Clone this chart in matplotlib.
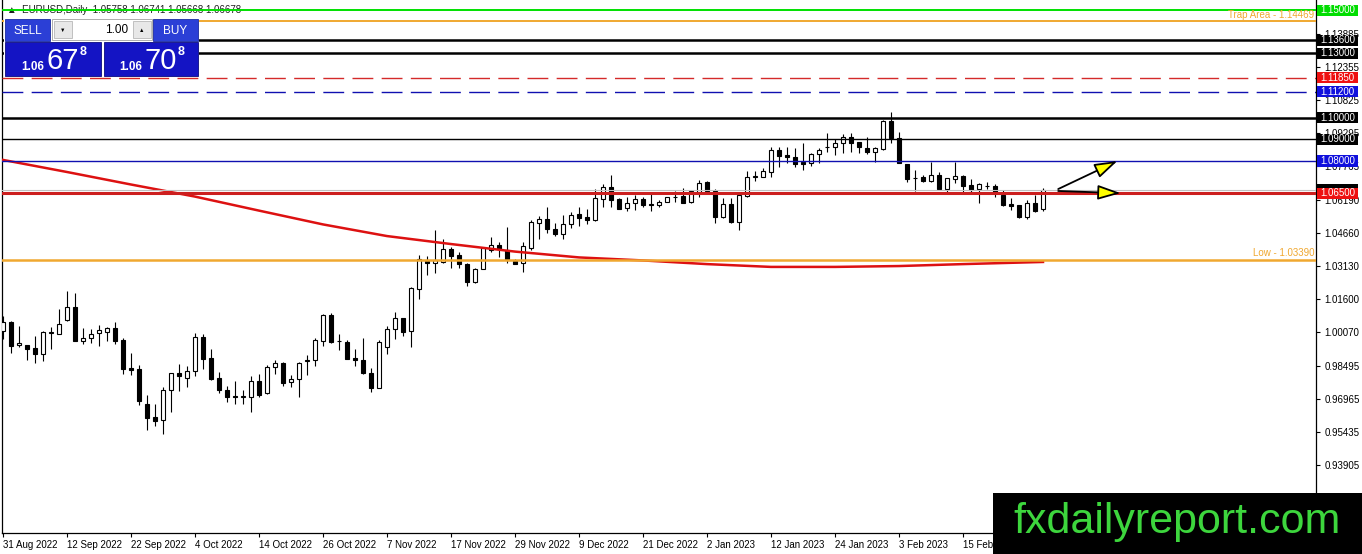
import matplotlib
matplotlib.use("Agg")
import matplotlib.pyplot as plt
from matplotlib.patches import Rectangle, FancyArrowPatch
from matplotlib.transforms import blended_transform_factory
import numpy as np

plt.rcParams['font.family'] = ['Liberation Sans', 'DejaVu Sans']

W, H = 1362, 554

# EURUSD daily bars, 31 Aug 2022 -> 1 Mar 2023
opens = [1.0013, 1.0052, 0.9946, 0.9946, 0.9932, 0.9904, 1.0003, 0.9997, 1.0064, 1.0121,
         0.9967, 0.9978, 1.0001, 1.0009, 1.0026, 0.9970, 0.9839, 0.9836, 0.9673, 0.9615,
         0.9598, 0.9737, 0.9817, 0.9795, 0.9825, 0.9984, 0.9887, 0.9794, 0.9738, 0.9710,
         0.9704, 0.9704, 0.9780, 0.9724, 0.9845, 0.9865, 0.9774, 0.9788, 0.9875, 0.9876,
         0.9967, 1.0086, 0.9964, 0.9961, 0.9888, 0.9876, 0.9817, 0.9749, 0.9939, 1.0020,
         1.0070, 1.0011, 1.0208, 1.0338, 1.0326, 1.0330, 1.0392, 1.0364, 1.0321, 1.0238,
         1.0301, 1.0389, 1.0411, 1.0389, 1.0338, 1.0326, 1.0398, 1.0514, 1.0529, 1.0486,
         1.0463, 1.0507, 1.0553, 1.0539, 1.0527, 1.0625, 1.0678, 1.0623, 1.0584, 1.0604,
         1.0623, 1.0602, 1.0595, 1.0610, 1.0633, 1.0638, 1.0609, 1.0658, 1.0703, 1.0662,
         1.0542, 1.0599, 1.0519, 1.0638, 1.0727, 1.0727, 1.0750, 1.0851, 1.0828, 1.0817,
         1.0794, 1.0789, 1.0832, 1.0866, 1.0866, 1.0882, 1.0910, 1.0890, 1.0859, 1.0843,
         1.0856, 1.0985, 1.0906, 1.0786, 1.0721, 1.0725, 1.0707, 1.0735, 1.0669, 1.0718,
         1.0732, 1.0687, 1.0669, 1.0685, 1.0684, 1.0642, 1.0601, 1.0594, 1.0539, 1.0604,
         1.05758]
highs = [1.0081, 1.0058, 1.0035, 0.9947, 0.9989, 1.0012, 1.0032, 1.0114, 1.0195, 1.0186,
         1.0025, 1.0021, 1.0040, 1.0031, 1.0054, 0.9978, 0.9910, 0.9854, 0.9715, 0.9673,
         0.9751, 0.9818, 0.9859, 0.9850, 1.0004, 0.9998, 0.9928, 0.9822, 0.9757, 0.9782,
         0.9738, 0.9805, 0.9813, 0.9853, 0.9877, 0.9870, 0.9808, 0.9870, 0.9901, 0.9979,
         1.0089, 1.0095, 0.9998, 0.9968, 0.9927, 0.9981, 0.9842, 0.9970, 1.0035, 1.0100,
         1.0073, 1.0217, 1.0364, 1.0360, 1.0480, 1.0437, 1.0403, 1.0377, 1.0326, 1.0306,
         1.0403, 1.0446, 1.0425, 1.0496, 1.0346, 1.0425, 1.0527, 1.0544, 1.0588, 1.0511,
         1.0550, 1.0565, 1.0588, 1.0576, 1.0670, 1.0693, 1.0735, 1.0627, 1.0635, 1.0643,
         1.0632, 1.0653, 1.0619, 1.0632, 1.0662, 1.0673, 1.0666, 1.0712, 1.0707, 1.0669,
         1.0630, 1.0627, 1.0650, 1.0755, 1.0755, 1.0766, 1.0866, 1.0866, 1.0866, 1.0859,
         1.0885, 1.0836, 1.0859, 1.0928, 1.0901, 1.0925, 1.0928, 1.0890, 1.0910, 1.0866,
         1.0990, 1.1026, 1.0936, 1.0786, 1.0758, 1.0735, 1.0794, 1.0750, 1.0720, 1.0797,
         1.0735, 1.0717, 1.0697, 1.0704, 1.0693, 1.0666, 1.0627, 1.0594, 1.0619, 1.0643,
         1.06741]
lows = [0.9975, 0.9911, 0.9939, 0.9877, 0.9865, 0.9873, 0.9930, 0.9997, 1.0059, 0.9967,
        0.9953, 0.9958, 0.9944, 0.9966, 0.9953, 0.9814, 0.9809, 0.9670, 0.9554, 0.9573,
        0.9536, 0.9638, 0.9735, 0.9754, 0.9803, 0.9837, 0.9786, 0.9726, 0.9684, 0.9675,
        0.9672, 0.9635, 0.9706, 0.9721, 0.9814, 0.9757, 0.9754, 0.9707, 0.9809, 0.9851,
        0.9944, 0.9958, 0.9925, 0.9881, 0.9851, 0.9813, 0.9731, 0.9746, 0.9905, 0.9973,
        0.9989, 0.9936, 1.0160, 1.0270, 1.0279, 1.0326, 1.0302, 1.0305, 1.0222, 1.0236,
        1.0298, 1.0380, 1.0354, 1.0329, 1.0321, 1.0287, 1.0387, 1.0437, 1.0465, 1.0454,
        1.0440, 1.0488, 1.0500, 1.0507, 1.0523, 1.0588, 1.0588, 1.0578, 1.0570, 1.0573,
        1.0588, 1.0570, 1.0588, 1.0609, 1.0610, 1.0604, 1.0607, 1.0635, 1.0650, 1.0514,
        1.0537, 1.0511, 1.0480, 1.0635, 1.0709, 1.0725, 1.0727, 1.0774, 1.0789, 1.0774,
        1.0758, 1.0778, 1.0792, 1.0843, 1.0828, 1.0836, 1.0843, 1.0836, 1.0831, 1.0794,
        1.0851, 1.0882, 1.0789, 1.0704, 1.0662, 1.0704, 1.0703, 1.0666, 1.0650, 1.0697,
        1.0658, 1.0650, 1.0607, 1.0671, 1.0635, 1.0591, 1.0573, 1.0534, 1.0530, 1.0565,
        1.05668]
closes = [1.0052, 0.9944, 0.9956, 0.9930, 0.9904, 1.0007, 1.0005, 1.0044, 1.0121, 0.9967,
          0.9978, 0.9998, 1.0017, 1.0025, 0.9966, 0.9837, 0.9833, 0.9689, 0.9610, 0.9596,
          0.9738, 0.9816, 0.9805, 0.9828, 0.9984, 0.9884, 0.9791, 0.9740, 0.9704, 0.9704,
          0.9710, 0.9780, 0.9715, 0.9845, 0.9862, 0.9771, 0.9788, 0.9862, 0.9876, 0.9970,
          1.0086, 0.9962, 0.9965, 0.9884, 0.9876, 0.9816, 0.9749, 0.9960, 1.0021, 1.0070,
          1.0009, 1.0210, 1.0346, 1.0326, 1.0341, 1.0391, 1.0361, 1.0321, 1.0238, 1.0301,
          1.0395, 1.0409, 1.0392, 1.0341, 1.0323, 1.0404, 1.0515, 1.0529, 1.0484, 1.0461,
          1.0507, 1.0548, 1.0537, 1.0527, 1.0627, 1.0678, 1.0619, 1.0579, 1.0606, 1.0623,
          1.0597, 1.0597, 1.0610, 1.0632, 1.0635, 1.0606, 1.0660, 1.0699, 1.0662, 1.0542,
          1.0599, 1.0517, 1.0641, 1.0725, 1.0729, 1.0754, 1.0851, 1.0825, 1.0817, 1.0786,
          1.0786, 1.0832, 1.0851, 1.0867, 1.0885, 1.0910, 1.0885, 1.0864, 1.0840, 1.0859,
          1.0985, 1.0906, 1.0789, 1.0718, 1.0720, 1.0707, 1.0735, 1.0669, 1.0720, 1.0732,
          1.0684, 1.0666, 1.0692, 1.0684, 1.0650, 1.0596, 1.0593, 1.0539, 1.0604, 1.0568,
          1.06678]

# moving average, sampled every 8 bars + last bar
ma_bars = [0, 8, 16, 24, 32, 40, 48, 56, 64, 72, 80, 88, 96, 104, 112, 120, 130]
ma_vals = [1.0805, 1.0749, 1.0691, 1.0635, 1.0570, 1.0506, 1.0452, 1.0415, 1.0380,
           1.0353, 1.0339, 1.0322, 1.0309, 1.0309, 1.0313, 1.0322, 1.0332]

date_bars = [0, 8, 16, 24, 32, 40, 48, 56, 64, 72, 80, 88, 96, 104, 112, 120]
date_labels = ['31 Aug 2022', '12 Sep 2022', '22 Sep 2022', '4 Oct 2022', '14 Oct 2022',
               '26 Oct 2022', '7 Nov 2022', '17 Nov 2022', '29 Nov 2022', '9 Dec 2022',
               '21 Dec 2022', '2 Jan 2023', '12 Jan 2023', '24 Jan 2023', '3 Feb 2023',
               '15 Feb 2023']

price_ticks = [1.13885, 1.12355, 1.10825, 1.09295, 1.07765, 1.06190, 1.04660, 1.03130,
               1.01600, 1.00070, 0.98495, 0.96965, 0.95435, 0.93905]

# horizontal levels drawn on the chart
levels = [1.15000, 1.13600, 1.13000, 1.11850, 1.11200, 1.10000, 1.09000, 1.08000, 1.06500]
level_colors = ['#00e000', 'black', 'black', '#d42a2a', '#1010b0', 'black', 'black', '#1010b0', '#cc1f1f']
level_box = ['#00dd00', 'black', 'black', '#ee1111', '#1010dd', 'black', 'black', '#1010dd', '#ee1111']
level_lw = [1.4, 1.8, 1.8, 1.0, 1.0, 1.8, 1.0, 1.0, 2.2]
level_dashed = [False, False, False, True, True, False, False, False, False]

trap_level = 1.14469
low_level = 1.03390
bid = 1.06678

fig = plt.figure(figsize=(W / 100, H / 100), dpi=100)
ax = fig.add_axes([2 / W, 21 / H, 1314 / W, 533 / H])
ax.set_xlim(-0.125, 164.125)
ax.set_ylim(0.90754, 1.15464)

o = np.array(opens); h = np.array(highs); l = np.array(lows); c = np.array(closes)
idx = np.arange(len(o))
up = c >= o
ax.vlines(idx, l, h, color='black', lw=0.8, zorder=3)
ax.bar(idx, np.maximum(np.abs(c - o), 0.00002), bottom=np.minimum(o, c), width=0.62,
       color=np.where(up, 'white', 'black'), edgecolor='black', linewidth=0.8, zorder=4)

ax.plot(ma_bars, ma_vals, color='#dd1111', lw=1.8, zorder=5)

# levels
bt = blended_transform_factory(ax.transAxes, ax.transData)
half = 0.00255
ax.axhline(bid, color='#c0c0c0', lw=0.8, zorder=5)
ax.add_patch(Rectangle((1.0008, bid - half), 0.0312, 2 * half, transform=bt, fc='black',
                       ec='none', clip_on=False, zorder=9))
for v, col, bc, lw, dsh in zip(levels, level_colors, level_box, level_lw, level_dashed):
    if dsh:
        ax.axhline(v, color=col, lw=lw, dashes=(15, 6), zorder=6)
    else:
        ax.axhline(v, color=col, lw=lw, zorder=6)
    ax.add_patch(Rectangle((1.0008, v - half), 0.0312, 2 * half, transform=bt, fc=bc,
                           ec='none', clip_on=False, zorder=10))
    ax.text(1.0164, v, '%.5f' % v, transform=bt, ha='center', va='center', color='white',
            fontsize=7, zorder=11, clip_on=False)

ax.axhline(trap_level, color='#f0a830', lw=1.4, zorder=6)
ax.text(0.9985, trap_level + 0.0007, 'Trap Area - %.5f' % trap_level, transform=bt,
        ha='right', va='bottom', color='#f0a830', fontsize=7, zorder=7)
ax.axhline(low_level, color='#f0a830', lw=1.8, zorder=6)
ax.text(0.9985, low_level + 0.0012, 'Low - %.5f' % low_level, transform=bt,
        ha='right', va='bottom', color='#f0a830', fontsize=7, zorder=7)

# arrows from the last bar toward the targets
for y0, y1, x1 in [(1.0670, 1.0800, 139.3), (1.0661, 1.0651, 139.7)]:
    ax.add_patch(FancyArrowPatch((131.9, y0), (x1, y1),
                                 arrowstyle='-|>,head_length=1.4,head_width=0.45',
                                 mutation_scale=10, fc='#ffff00', ec='black', lw=1.3,
                                 zorder=8, shrinkA=0, shrinkB=0))

ax.text(5 / 1314, 1 - 10 / 533, '\u25b2  EURUSD,Daily  1.05758 1.06741 1.05668 1.06678',
        transform=ax.transAxes, ha='left', va='center', fontsize=7, color='#202020', zorder=5)

# axes styling like MT4
ax.spines['top'].set_visible(False)
for s in ['left', 'right', 'bottom']:
    ax.spines[s].set_color('black')
    ax.spines[s].set_linewidth(0.9)
ax.yaxis.tick_right()
ax.set_yticks(price_ticks)
ax.set_yticklabels(['%.5f' % t for t in price_ticks])
ax.set_xticks(date_bars)
ax.set_xticklabels(date_labels, ha='left')
ax.tick_params(axis='y', length=3, pad=3, labelsize=7, colors='black')
ax.tick_params(axis='x', length=3, pad=2, labelsize=7, colors='black')

# overlay in pixel coordinates: trade panel and watermark
ov = fig.add_axes([0, 0, 1, 1], zorder=10)
ov.set_xlim(0, W)
ov.set_ylim(H, 0)
ov.axis('off')
ov.patch.set_visible(False)


def box(x0, y0, x1, y1, **kw):
    ov.add_patch(Rectangle((x0, y0), x1 - x0, y1 - y0, **kw))


box(4, 18, 199, 77, fc='white', ec='none')
box(5, 19, 50, 41, fc='#2b3fd6', ec='#1a2aa0', lw=0.6)
box(153, 19, 198, 41, fc='#2b3fd6', ec='#1a2aa0', lw=0.6)
box(52, 19, 152, 40, fc='white', ec='#a0a0a0', lw=0.6)
box(54, 21, 72, 38, fc='#e8e8e8', ec='#b8b8b8', lw=0.6)
box(133, 21, 151, 38, fc='#e8e8e8', ec='#b8b8b8', lw=0.6)
box(5, 42, 101, 76, fc='#1414c4', ec='#0a0a80', lw=0.6)
box(104, 42, 198, 76, fc='#1414c4', ec='#0a0a80', lw=0.6)
ov.text(27.5, 30.5, 'SELL', ha='center', va='center', color='white', fontsize=8.5)
ov.text(175.5, 30.5, 'BUY', ha='center', va='center', color='white', fontsize=8.5)
ov.text(128, 30, '1.00', ha='right', va='center', color='black', fontsize=8.5)
ov.text(63, 30, '\u25bc', ha='center', va='center', color='black', fontsize=4)
ov.text(142, 30, '\u25b2', ha='center', va='center', color='black', fontsize=4)
for x0, big in [(21, '67'), (119, '70')]:
    ov.text(x0, 70, '1.06', ha='left', va='baseline', color='white', fontsize=8.5,
            fontweight='bold')
    ov.text(x0 + 26, 69, big, ha='left', va='baseline', color='white', fontsize=21)
    ov.text(x0 + 59, 55, '8', ha='left', va='baseline', color='white', fontsize=9,
            fontweight='bold')

box(993, 493, 1362, 554, fc='black', ec='none')
ov.text(1177, 533, 'fxdailyreport.com', ha='center', va='baseline', color='#3dd63d',
        fontsize=31)

fig.savefig('out.png', dpi=100)
